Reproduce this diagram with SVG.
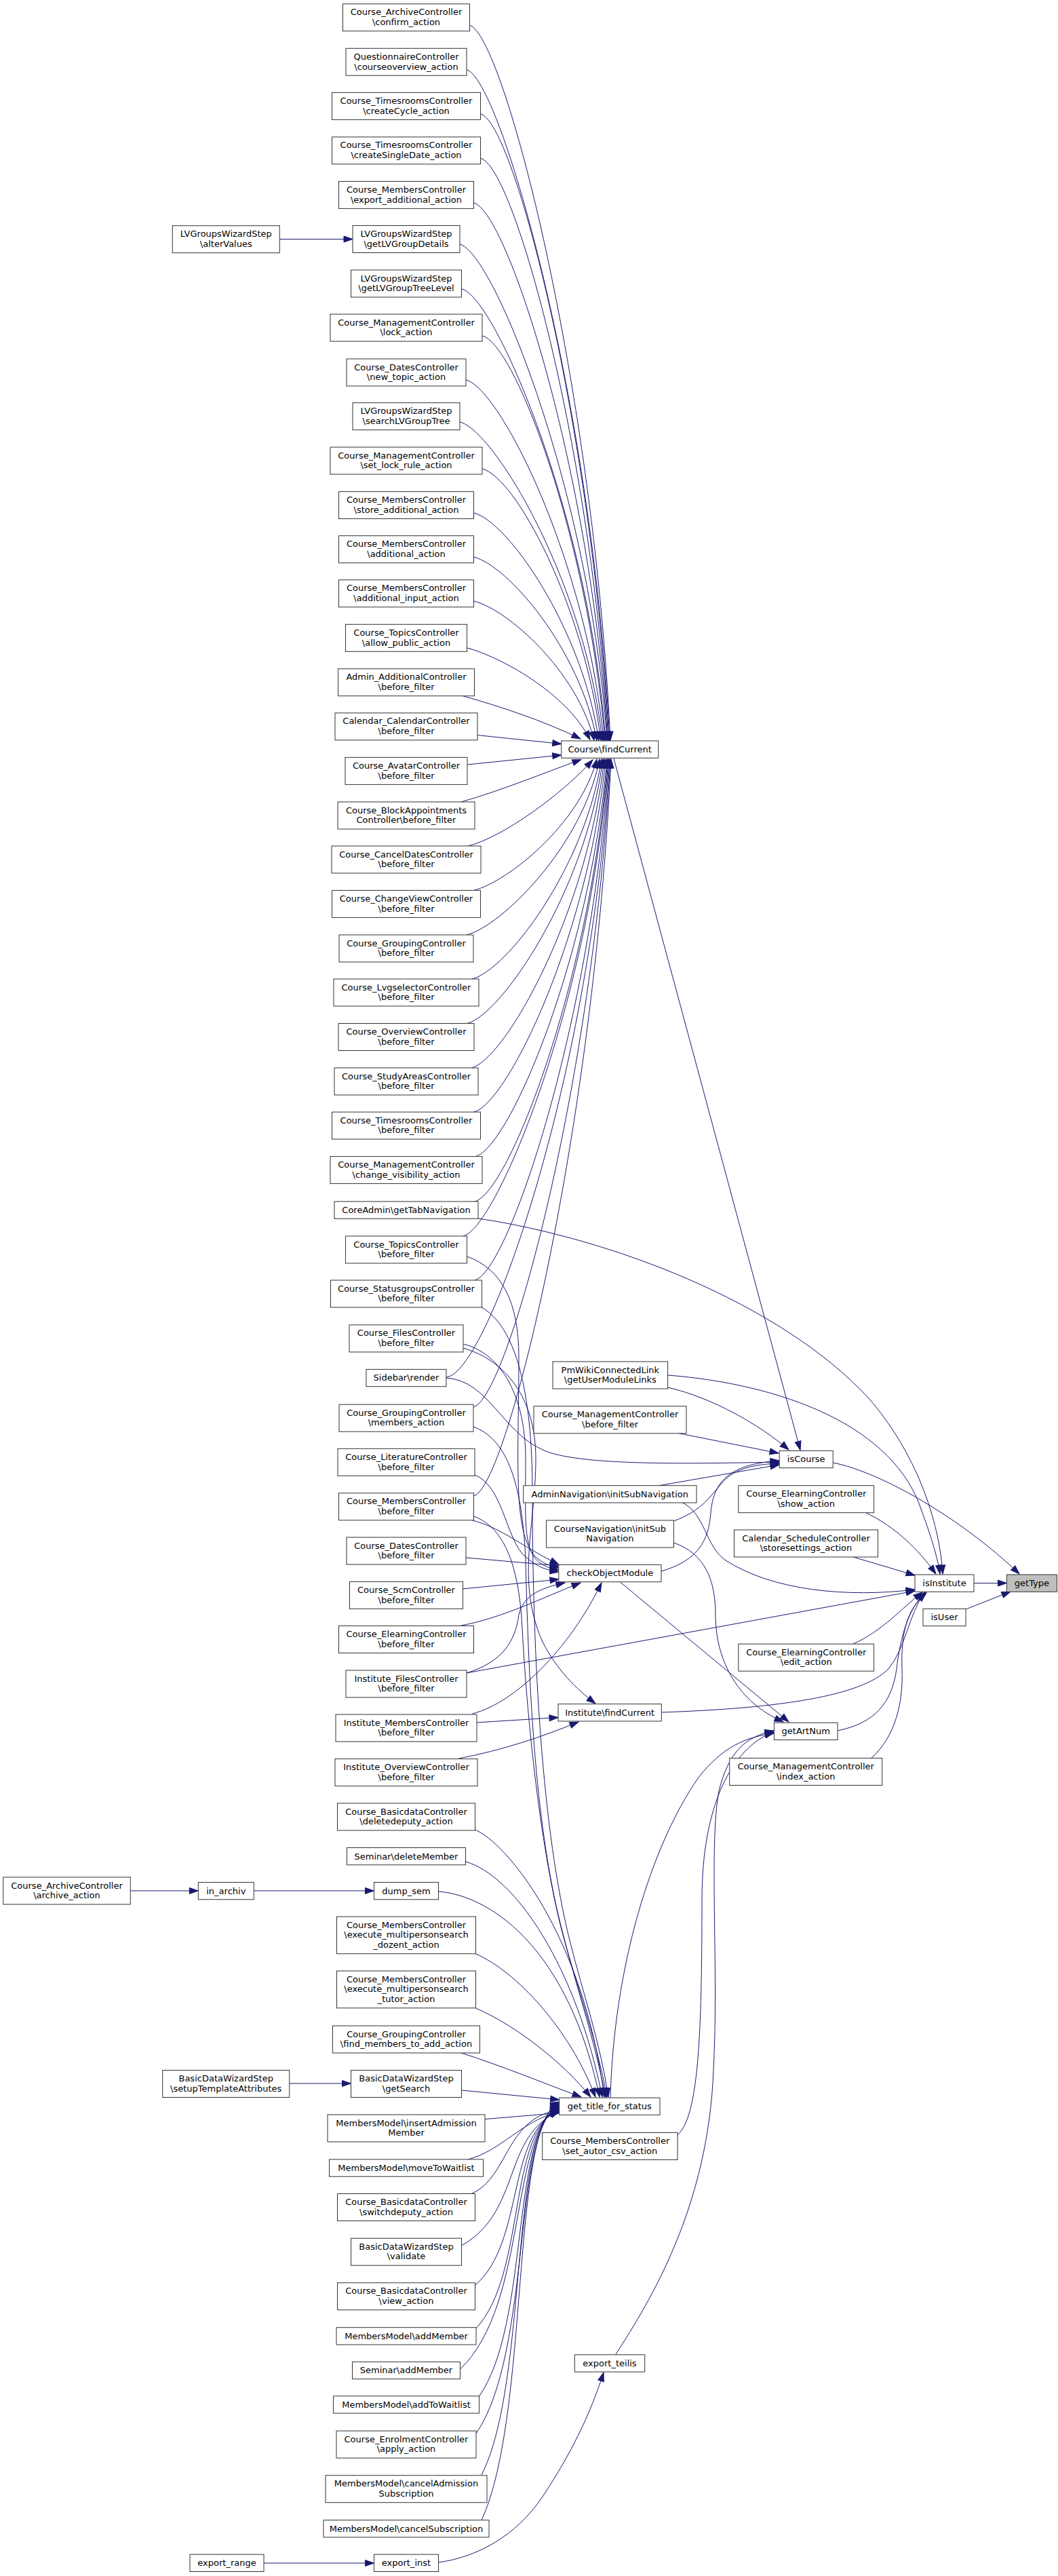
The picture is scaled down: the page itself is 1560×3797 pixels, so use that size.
<svg xmlns="http://www.w3.org/2000/svg" width="1560" height="3797" viewBox="0 0 1560 3797">
<style>
.n rect{fill:#fff;stroke:#333;stroke-width:1}
.n text{font-family:"DejaVu Sans","Liberation Sans",sans-serif;font-size:13px;text-anchor:middle;fill:#000}
#n_getType rect{fill:#bfbfbf}
#edges path{fill:none;stroke:#191970;stroke-width:1;marker-end:url(#ah)}
</style>
<defs>
<marker id="ah" markerUnits="userSpaceOnUse" markerWidth="14" markerHeight="10" refX="13" refY="5" orient="auto" overflow="visible">
<path d="M0,0.5 L13,5 L0,9.5 Z" fill="#191970" stroke="#191970" stroke-width="1"/>
</marker>
</defs>
<rect x="0" y="0" width="1560" height="3797" fill="#fff"/>
<g id="edges">
<path d="M692.3,37.3 C742,49 875,564 900,1091.5"/>
<path d="M688,102.8 C738,115 874,597 899,1091.5"/>
<path d="M708.7,168 C758,180 873,630 898,1091.5"/>
<path d="M708.7,233.4 C758,245 872,662 897,1091.5"/>
<path d="M698.5,299 C748,311 871,695 896,1091.5"/>
<path d="M678,360 C728,372 870,726 895,1091.5"/>
<path d="M681,426 C730,438 868,759 893,1091.5"/>
<path d="M711,495 C760,507 867,793 892,1091.5"/>
<path d="M687,560 C737,572 865,826 890,1091.5"/>
<path d="M678,622 C728,634 863,857 888,1091.5"/>
<path d="M711,691 C760,703 861,891 886,1091.5"/>
<path d="M698.5,756 C748,768 858,924 883,1091.5"/>
<path d="M698.5,821 C748,833 855,956 880,1091.5"/>
<path d="M698.5,886 C748,898 851,989 876,1091.5"/>
<path d="M688.5,955 C735,967 835,1020 870,1090.5"/>
<path d="M683,1026 C740,1042 800,1062 856,1089"/>
<path d="M704,1083.6 L827.7,1096.5"/>
<path d="M689,1127 L827.7,1113"/>
<path d="M680,1182 C740,1165 800,1140 857,1119.5"/>
<path d="M690,1247 C740,1235 830,1170 874,1120"/>
<path d="M698.7,1312.4 C748,1300 855,1215 880,1119"/>
<path d="M688,1378 C738,1366 859,1248 884,1119"/>
<path d="M696,1443 C746,1431 862,1281 887,1119"/>
<path d="M689,1508.5 C739,1496 864,1313 889,1119"/>
<path d="M695,1574 C745,1562 866,1346 891,1119"/>
<path d="M698.7,1639.1 C748,1627 868,1379 893,1119"/>
<path d="M701,1704.6 C751,1692 870,1411 895,1119"/>
<path d="M700,1771 C750,1759 871,1445 896,1119"/>
<path d="M683,1822 C733,1810 872,1470 897,1119"/>
<path d="M700,1887 C750,1875 873,1503 898,1119"/>
<path d="M658,2030 C720,2025 874,1574 899,1119"/>
<path d="M698,2074 C748,2062 875,1596 900,1119"/>
<path d="M698.5,2205 C748,2193 876,1662 901,1119"/>
<path d="M412.3,352.5 L520,352.5"/>
<path d="M905,1118 L1180,2137.5"/>
<path d="M705,1796 C900,1825 1150,1920 1280,2060 C1350,2140 1385,2240 1390,2320"/>
<path d="M984.6,2027 C1150,2040 1320,2100 1360,2230 C1375,2270 1383,2300 1386,2320"/>
<path d="M984.6,2045 C1050,2060 1120,2100 1163,2137"/>
<path d="M1000,2112.5 L1148,2142"/>
<path d="M658,2031 C720,2035 740,2110 800,2137 C850,2160 1000,2158 1149,2155"/>
<path d="M970,2190 L1149,2159"/>
<path d="M993.4,2242 C1040,2225 1050,2200 1070,2180 C1090,2162 1120,2158 1149,2157"/>
<path d="M975,2316 C1030,2300 1045,2270 1048,2230 C1052,2180 1080,2158 1149,2153"/>
<path d="M1228.2,2156 C1300,2170 1420,2240 1503,2320"/>
<path d="M1436,2333.5 L1484.4,2333.5"/>
<path d="M1424,2372 L1490,2346"/>
<path d="M1277,2230 C1320,2250 1355,2285 1380,2320"/>
<path d="M1258,2295 L1349,2322"/>
<path d="M1004.6,2214 C1040,2230 1040,2280 1070,2300 C1140,2345 1250,2355 1349,2343"/>
<path d="M688,2466 L1349,2345"/>
<path d="M1258,2423 C1300,2405 1330,2370 1360,2347"/>
<path d="M975.3,2524 C1150,2518 1270,2500 1310,2460 C1335,2430 1340,2380 1363,2347"/>
<path d="M1235,2551 C1290,2540 1315,2510 1322,2460 C1328,2410 1340,2370 1365,2347"/>
<path d="M1284.7,2591.5 C1320,2560 1332,2510 1330,2460 C1328,2400 1340,2370 1366,2348"/>
<path d="M993.4,2274 C1040,2290 1055,2330 1055,2380 C1055,2450 1090,2510 1155,2538"/>
<path d="M914.5,2332 L1163,2538"/>
<path d="M900,3092 C905,2900 960,2720 1030,2620 C1065,2575 1100,2560 1141,2555"/>
<path d="M999,3147 C1030,3120 1035,3000 1035,2800 C1035,2660 1080,2575 1141,2553"/>
<path d="M908,3470 C960,3390 1045,3250 1052,3050 C1060,2900 1045,2720 1060,2640 C1075,2580 1100,2560 1141,2551"/>
<path d="M646,3777 C700,3770 760,3740 800,3680 C840,3620 870,3560 890,3497"/>
<path d="M389,3778 L551.5,3778"/>
<path d="M192.3,2787 L292.3,2787"/>
<path d="M374.3,2787 L551.5,2787"/>
<path d="M426.7,3071 L517.5,3071"/>
<path d="M688.5,1852 C740,1870 765,1920 765,2000 C765,2150 755,2260 790,2295 C800,2304 810,2308 824,2311"/>
<path d="M683,1981 C740,1995 775,2060 775,2150 C775,2240 770,2290 800,2306 C808,2311 815,2313 824,2314"/>
<path d="M683,1987 C745,2005 790,2060 790,2150 C790,2250 760,2330 800,2420 C820,2460 850,2490 878,2511"/>
<path d="M700,2174 C740,2190 745,2260 770,2290 C785,2305 800,2314 824,2317"/>
<path d="M696.5,2241 C740,2252 770,2280 824,2306"/>
<path d="M687,2296 L824,2308"/>
<path d="M682,2342 L824,2328"/>
<path d="M680,2396 C740,2385 800,2355 856,2333"/>
<path d="M688,2466 C740,2450 760,2420 765,2380 C772,2350 800,2340 833,2333"/>
<path d="M696.5,2526 C760,2510 840,2430 887,2333"/>
<path d="M703,2539 L823,2531.5"/>
<path d="M676.5,2592 C740,2580 800,2560 853,2538"/>
<path d="M710,1927 C760,1955 785,2050 785,2200 C785,2450 800,2700 840,2860 C860,2940 885,3010 897,3091"/>
<path d="M698,2103 C745,2120 770,2180 775,2300 C780,2500 790,2700 830,2850 C850,2930 875,3000 893,3091"/>
<path d="M698.5,2235 C740,2250 765,2300 770,2400 C778,2550 800,2750 835,2870 C855,2940 880,3010 895,3091"/>
<path d="M700.5,2697 C745,2715 860,2850 891,3091"/>
<path d="M686.5,2744 C760,2765 850,2900 888,3091"/>
<path d="M646.5,2788 C730,2795 840,2880 884,3091"/>
<path d="M701.5,2880 C760,2905 840,2990 878,3091"/>
<path d="M701.5,2960 C760,2985 830,3040 871,3091"/>
<path d="M680,3026 C740,3045 800,3070 857,3091"/>
<path d="M680.5,3081 L824.7,3095"/>
<path d="M715,3123.6 L824.7,3114.5"/>
<path d="M690,3183 C740,3170 770,3125 824.7,3113"/>
<path d="M695,3233.5 C740,3215 745,3150 790,3122 C800,3116 812,3112 824.7,3110"/>
<path d="M680.5,3310 C770,3260 740,3147 824.7,3112"/>
<path d="M700.5,3368.6 C775,3304 745,3145 824.7,3110"/>
<path d="M702,3432 C777,3351 747,3143 824.7,3108"/>
<path d="M678.5,3492 C780,3396 750,3141 824.7,3106"/>
<path d="M706.5,3532 C782,3425 752,3139 824.7,3104"/>
<path d="M702,3587 C785,3466 755,3137 824.7,3102"/>
<path d="M710,3648 C780,3511 750,3135 824.7,3100"/>
<path d="M710,3714.6 C782,3560 752,3133 824.7,3098"/>
</g>
<g id="n_confirm" class="n"><rect x="505.5" y="5.8" width="187" height="40"/><text x="599" y="22.3">Course_ArchiveController</text><text x="599" y="37">\confirm_action</text></g>
<g id="n_courseoverview" class="n"><rect x="510" y="71.3" width="178" height="40"/><text x="599" y="87.8">QuestionnaireController</text><text x="599" y="102.5">\courseoverview_action</text></g>
<g id="n_createCycle" class="n"><rect x="489.5" y="136.4" width="219" height="40"/><text x="599" y="152.9">Course_TimesroomsController</text><text x="599" y="167.6">\createCycle_action</text></g>
<g id="n_createSingle" class="n"><rect x="489.5" y="201.9" width="219" height="40"/><text x="599" y="218.4">Course_TimesroomsController</text><text x="599" y="233.1">\createSingleDate_action</text></g>
<g id="n_exportAdd" class="n"><rect x="499.5" y="267.4" width="199" height="40"/><text x="599" y="283.9">Course_MembersController</text><text x="599" y="298.6">\export_additional_action</text></g>
<g id="n_getLVDetails" class="n"><rect x="520" y="332.5" width="158" height="40"/><text x="599" y="349">LVGroupsWizardStep</text><text x="599" y="363.7">\getLVGroupDetails</text></g>
<g id="n_getLVTree" class="n"><rect x="517.5" y="398" width="163" height="40"/><text x="599" y="414.5">LVGroupsWizardStep</text><text x="599" y="429.2">\getLVGroupTreeLevel</text></g>
<g id="n_lock" class="n"><rect x="487" y="463.1" width="224" height="40"/><text x="599" y="479.6">Course_ManagementController</text><text x="599" y="494.3">\lock_action</text></g>
<g id="n_newTopic" class="n"><rect x="511" y="529" width="176" height="40"/><text x="599" y="545.5">Course_DatesController</text><text x="599" y="560.2">\new_topic_action</text></g>
<g id="n_searchLV" class="n"><rect x="520" y="593.7" width="158" height="40"/><text x="599" y="610.2">LVGroupsWizardStep</text><text x="599" y="624.9">\searchLVGroupTree</text></g>
<g id="n_setLock" class="n"><rect x="487" y="659.1" width="224" height="40"/><text x="599" y="675.6">Course_ManagementController</text><text x="599" y="690.3">\set_lock_rule_action</text></g>
<g id="n_storeAdd" class="n"><rect x="499.5" y="724.6" width="199" height="40"/><text x="599" y="741.1">Course_MembersController</text><text x="599" y="755.8">\store_additional_action</text></g>
<g id="n_additional" class="n"><rect x="499.5" y="789.7" width="199" height="40"/><text x="599" y="806.2">Course_MembersController</text><text x="599" y="820.9">\additional_action</text></g>
<g id="n_additionalInput" class="n"><rect x="499.5" y="854.8" width="199" height="40"/><text x="599" y="871.3">Course_MembersController</text><text x="599" y="886">\additional_input_action</text></g>
<g id="n_allowPublic" class="n"><rect x="509.5" y="920.3" width="179" height="40"/><text x="599" y="936.8">Course_TopicsController</text><text x="599" y="951.5">\allow_public_action</text></g>
<g id="n_adminAdd" class="n"><rect x="498.5" y="985.8" width="201" height="40"/><text x="599" y="1002.3">Admin_AdditionalController</text><text x="599" y="1017">\before_filter</text></g>
<g id="n_calendar" class="n"><rect x="494" y="1050.9" width="210" height="40"/><text x="599" y="1067.4">Calendar_CalendarController</text><text x="599" y="1082.1">\before_filter</text></g>
<g id="n_avatar" class="n"><rect x="509" y="1116.4" width="180" height="40"/><text x="599" y="1132.9">Course_AvatarController</text><text x="599" y="1147.6">\before_filter</text></g>
<g id="n_block" class="n"><rect x="498" y="1182" width="202" height="40"/><text x="599" y="1198.5">Course_BlockAppointments</text><text x="599" y="1213.2">Controller\before_filter</text></g>
<g id="n_cancelDates" class="n"><rect x="489" y="1247" width="220" height="40"/><text x="599" y="1263.5">Course_CancelDatesController</text><text x="599" y="1278.2">\before_filter</text></g>
<g id="n_changeView" class="n"><rect x="489.5" y="1312.4" width="219" height="40"/><text x="599" y="1328.9">Course_ChangeViewController</text><text x="599" y="1343.6">\before_filter</text></g>
<g id="n_grouping" class="n"><rect x="500" y="1378" width="198" height="40"/><text x="599" y="1394.5">Course_GroupingController</text><text x="599" y="1409.2">\before_filter</text></g>
<g id="n_lvgsel" class="n"><rect x="492" y="1443" width="214" height="40"/><text x="599" y="1459.5">Course_LvgselectorController</text><text x="599" y="1474.2">\before_filter</text></g>
<g id="n_overview" class="n"><rect x="499" y="1508.5" width="200" height="40"/><text x="599" y="1525">Course_OverviewController</text><text x="599" y="1539.7">\before_filter</text></g>
<g id="n_studyAreas" class="n"><rect x="493" y="1574" width="212" height="40"/><text x="599" y="1590.5">Course_StudyAreasController</text><text x="599" y="1605.2">\before_filter</text></g>
<g id="n_timesrooms" class="n"><rect x="489.5" y="1639.1" width="219" height="40"/><text x="599" y="1655.6">Course_TimesroomsController</text><text x="599" y="1670.3">\before_filter</text></g>
<g id="n_changeVis" class="n"><rect x="487" y="1704.6" width="224" height="40"/><text x="599" y="1721.1">Course_ManagementController</text><text x="599" y="1735.8">\change_visibility_action</text></g>
<g id="n_coreAdmin" class="n"><rect x="493" y="1771" width="212" height="25.3"/><text x="599" y="1788">CoreAdmin\getTabNavigation</text></g>
<g id="n_topics" class="n"><rect x="509.5" y="1822" width="179" height="40"/><text x="599" y="1838.5">Course_TopicsController</text><text x="599" y="1853.2">\before_filter</text></g>
<g id="n_statusgroups" class="n"><rect x="487.5" y="1887" width="223" height="40"/><text x="599" y="1903.5">Course_StatusgroupsController</text><text x="599" y="1918.2">\before_filter</text></g>
<g id="n_files" class="n"><rect x="515" y="1952.9" width="168" height="40"/><text x="599" y="1969.4">Course_FilesController</text><text x="599" y="1984.1">\before_filter</text></g>
<g id="n_sidebar" class="n"><rect x="540" y="2018.4" width="118" height="25.3"/><text x="599" y="2035.4">Sidebar\render</text></g>
<g id="n_groupMembers" class="n"><rect x="500" y="2070.2" width="198" height="40"/><text x="599" y="2086.7">Course_GroupingController</text><text x="599" y="2101.4">\members_action</text></g>
<g id="n_literature" class="n"><rect x="498" y="2135.3" width="202" height="40"/><text x="599" y="2151.8">Course_LiteratureController</text><text x="599" y="2166.5">\before_filter</text></g>
<g id="n_members" class="n"><rect x="499.5" y="2200.8" width="199" height="40"/><text x="599" y="2217.3">Course_MembersController</text><text x="599" y="2232">\before_filter</text></g>
<g id="n_dates" class="n"><rect x="511" y="2266" width="176" height="40"/><text x="599" y="2282.5">Course_DatesController</text><text x="599" y="2297.2">\before_filter</text></g>
<g id="n_scm" class="n"><rect x="515.5" y="2331.4" width="167" height="40"/><text x="599" y="2347.9">Course_ScmController</text><text x="599" y="2362.6">\before_filter</text></g>
<g id="n_elearning" class="n"><rect x="499.5" y="2396.5" width="199" height="40"/><text x="599" y="2413">Course_ElearningController</text><text x="599" y="2427.7">\before_filter</text></g>
<g id="n_instFiles" class="n"><rect x="510" y="2462" width="178" height="40"/><text x="599" y="2478.5">Institute_FilesController</text><text x="599" y="2493.2">\before_filter</text></g>
<g id="n_instMembers" class="n"><rect x="495" y="2527.1" width="208" height="40"/><text x="599" y="2543.6">Institute_MembersController</text><text x="599" y="2558.3">\before_filter</text></g>
<g id="n_instOverview" class="n"><rect x="494" y="2592.6" width="210" height="40"/><text x="599" y="2609.1">Institute_OverviewController</text><text x="599" y="2623.8">\before_filter</text></g>
<g id="n_deletedeputy" class="n"><rect x="497.5" y="2658" width="203" height="40"/><text x="599" y="2674.5">Course_BasicdataController</text><text x="599" y="2689.2">\deletedeputy_action</text></g>
<g id="n_deleteMember" class="n"><rect x="511.5" y="2723.5" width="175" height="25.3"/><text x="599" y="2740.5">Seminar\deleteMember</text></g>
<g id="n_dumpSem" class="n"><rect x="551.5" y="2774.5" width="95" height="25.3"/><text x="599" y="2791.5">dump_sem</text></g>
<g id="n_dozent" class="n"><rect x="496.5" y="2825.1" width="205" height="54.7"/><text x="599" y="2841.6">Course_MembersController</text><text x="599" y="2856.3">\execute_multipersonsearch</text><text x="599" y="2871">_dozent_action</text></g>
<g id="n_tutor" class="n"><rect x="496.5" y="2905.1" width="205" height="54.7"/><text x="599" y="2921.6">Course_MembersController</text><text x="599" y="2936.3">\execute_multipersonsearch</text><text x="599" y="2951">_tutor_action</text></g>
<g id="n_findMembers" class="n"><rect x="490.5" y="2986" width="217" height="40"/><text x="599" y="3002.5">Course_GroupingController</text><text x="599" y="3017.2">\find_members_to_add_action</text></g>
<g id="n_getSearch" class="n"><rect x="517.5" y="3051.5" width="163" height="40"/><text x="599" y="3068">BasicDataWizardStep</text><text x="599" y="3082.7">\getSearch</text></g>
<g id="n_insertAdm" class="n"><rect x="483" y="3117" width="232" height="40"/><text x="599" y="3133.5">MembersModel\insertAdmission</text><text x="599" y="3148.2">Member</text></g>
<g id="n_moveWait" class="n"><rect x="485.5" y="3182.9" width="227" height="25.3"/><text x="599" y="3199.9">MembersModel\moveToWaitlist</text></g>
<g id="n_switchdeputy" class="n"><rect x="497.5" y="3233.5" width="203" height="40"/><text x="599" y="3250">Course_BasicdataController</text><text x="599" y="3264.7">\switchdeputy_action</text></g>
<g id="n_validate" class="n"><rect x="517.5" y="3299.2" width="163" height="40"/><text x="599" y="3315.7">BasicDataWizardStep</text><text x="599" y="3330.4">\validate</text></g>
<g id="n_view" class="n"><rect x="497.5" y="3364.8" width="203" height="40"/><text x="599" y="3381.3">Course_BasicdataController</text><text x="599" y="3396">\view_action</text></g>
<g id="n_addMember" class="n"><rect x="496" y="3430.7" width="206" height="25.3"/><text x="599" y="3447.7">MembersModel\addMember</text></g>
<g id="n_semAddMember" class="n"><rect x="519.5" y="3481.3" width="159" height="25.3"/><text x="599" y="3498.3">Seminar\addMember</text></g>
<g id="n_addToWait" class="n"><rect x="491.5" y="3531.8" width="215" height="25.3"/><text x="599" y="3548.8">MembersModel\addToWaitlist</text></g>
<g id="n_apply" class="n"><rect x="496" y="3583.1" width="206" height="40"/><text x="599" y="3599.6">Course_EnrolmentController</text><text x="599" y="3614.3">\apply_action</text></g>
<g id="n_cancelAdm" class="n"><rect x="480" y="3648.7" width="238" height="40"/><text x="599" y="3665.2">MembersModel\cancelAdmission</text><text x="599" y="3679.9">Subscription</text></g>
<g id="n_cancelSub" class="n"><rect x="477" y="3714.6" width="244" height="25.3"/><text x="599" y="3731.6">MembersModel\cancelSubscription</text></g>
<g id="n_exportInst" class="n"><rect x="551.5" y="3765.2" width="95" height="25.3"/><text x="599" y="3782.2">export_inst</text></g>
<g id="n_alterValues" class="n"><rect x="254.3" y="332.7" width="158" height="40"/><text x="333.3" y="349.2">LVGroupsWizardStep</text><text x="333.3" y="363.9">\alterValues</text></g>
<g id="n_archive" class="n"><rect x="4.7" y="2767" width="187.6" height="40"/><text x="98.5" y="2783.5">Course_ArchiveController</text><text x="98.5" y="2798.2">\archive_action</text></g>
<g id="n_inArchiv" class="n"><rect x="292.3" y="2774.5" width="82" height="25.3"/><text x="333.3" y="2791.5">in_archiv</text></g>
<g id="n_setupTpl" class="n"><rect x="239.7" y="3051.5" width="187" height="40"/><text x="333.2" y="3068">BasicDataWizardStep</text><text x="333.2" y="3082.7">\setupTemplateAttributes</text></g>
<g id="n_exportRange" class="n"><rect x="280" y="3765.2" width="109" height="25.3"/><text x="334.5" y="3782.2">export_range</text></g>
<g id="n_findCurrent" class="n"><rect x="827.7" y="1092" width="143" height="25.3"/><text x="899.2" y="1109">Course\findCurrent</text></g>
<g id="n_pmwiki" class="n"><rect x="815" y="2007" width="169.6" height="40"/><text x="899.8" y="2023.5">PmWikiConnectedLink</text><text x="899.8" y="2038.2">\getUserModuleLinks</text></g>
<g id="n_mgmtBefore" class="n"><rect x="787" y="2072.8" width="225" height="40"/><text x="899.5" y="2089.3">Course_ManagementController</text><text x="899.5" y="2104">\before_filter</text></g>
<g id="n_adminNav" class="n"><rect x="771.7" y="2189.7" width="255.3" height="25.3"/><text x="899.3" y="2206.7">AdminNavigation\initSubNavigation</text></g>
<g id="n_courseNav" class="n"><rect x="805.5" y="2241" width="187.9" height="40"/><text x="899.4" y="2257.5">CourseNavigation\initSub</text><text x="899.4" y="2272.2">Navigation</text></g>
<g id="n_checkObj" class="n"><rect x="823.8" y="2306.4" width="151.2" height="25.3"/><text x="899.4" y="2323.4">checkObjectModule</text></g>
<g id="n_instFind" class="n"><rect x="823" y="2511.7" width="152.3" height="25.3"/><text x="899.1" y="2528.7">Institute\findCurrent</text></g>
<g id="n_getTitle" class="n"><rect x="824.7" y="3092.1" width="148.3" height="25.3"/><text x="898.8" y="3109.1">get_title_for_status</text></g>
<g id="n_setAutor" class="n"><rect x="799.7" y="3143.5" width="199.3" height="40"/><text x="899.3" y="3160">Course_MembersController</text><text x="899.3" y="3174.7">\set_autor_csv_action</text></g>
<g id="n_exportTeilis" class="n"><rect x="847.3" y="3470.8" width="103.4" height="25.3"/><text x="899" y="3487.8">export_teilis</text></g>
<g id="n_isCourse" class="n"><rect x="1149.2" y="2138.4" width="79" height="25.3"/><text x="1188.7" y="2155.4">isCourse</text></g>
<g id="n_showAction" class="n"><rect x="1088.8" y="2189.7" width="199.8" height="40"/><text x="1188.7" y="2206.2">Course_ElearningController</text><text x="1188.7" y="2220.9">\show_action</text></g>
<g id="n_storeSettings" class="n"><rect x="1082.5" y="2255" width="212" height="40"/><text x="1188.5" y="2271.5">Calendar_ScheduleController</text><text x="1188.5" y="2286.2">\storesettings_action</text></g>
<g id="n_editAction" class="n"><rect x="1088.8" y="2423.2" width="199.8" height="40"/><text x="1188.7" y="2439.7">Course_ElearningController</text><text x="1188.7" y="2454.4">\edit_action</text></g>
<g id="n_getArtNum" class="n"><rect x="1141.4" y="2539.3" width="93.6" height="25.3"/><text x="1188.2" y="2556.3">getArtNum</text></g>
<g id="n_indexAction" class="n"><rect x="1075.7" y="2591.5" width="225" height="40"/><text x="1188.2" y="2608">Course_ManagementController</text><text x="1188.2" y="2622.7">\index_action</text></g>
<g id="n_isInstitute" class="n"><rect x="1349" y="2321" width="87" height="25.3"/><text x="1392.5" y="2338">isInstitute</text></g>
<g id="n_isUser" class="n"><rect x="1361" y="2371.4" width="63" height="25.3"/><text x="1392.5" y="2388.4">isUser</text></g>
<g id="n_getType" class="n"><rect x="1484.4" y="2321" width="74" height="25.3"/><text x="1521.4" y="2338">getType</text></g>
</svg>
